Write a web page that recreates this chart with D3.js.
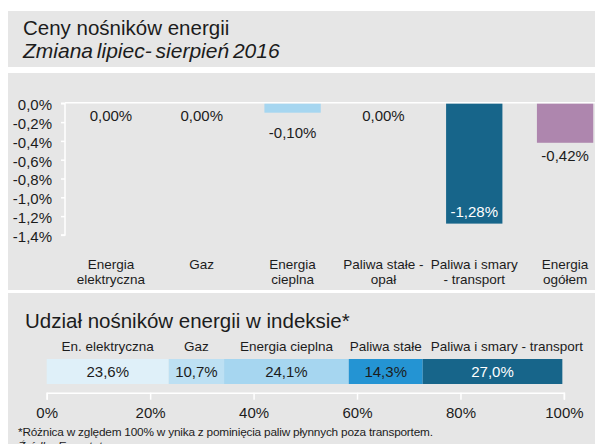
<!DOCTYPE html>
<html>
<head>
<meta charset="utf-8">
<script src="https://cdn.jsdelivr.net/npm/d3@7"></script>
<style>
  html, body { margin: 0; padding: 0; background: #ffffff; }
  svg { display: block; font-family: "Liberation Sans", Arial, sans-serif; }
</style>
</head>
<body>
<svg id="chart" width="595" height="444"></svg>
<script>
// ---- data ----
const categories = ["Energia\nelektryczna", "Gaz", "Energia\ncieplna", "Paliwa stałe -\nopał", "Paliwa i smary\n- transport", "Energia\nogółem"];
const changeValues = [0.00, 0.00, -0.10, 0.00, -1.28, -0.42];
const yTicks = [0, -0.2, -0.4, -0.6, -0.8, -1.0, -1.2, -1.4];

const shareLabels = ["En. elektryczna", "Gaz", "Energia cieplna", "Paliwa stałe", "Paliwa i smary - transport"];
const shareValues = [23.6, 10.7, 24.1, 14.3, 27.0];
const shareTicks = [0, 20, 40, 60, 80, 100];

const titleText = "Ceny nośników energii";
const subtitleText = "Zmiana lipiec- sierpień 2016";
const shareTitle = "Udział nośników energii w indeksie*";
const footnote = "*Różnica w zględem 100% w ynika z pominięcia paliw płynnych poza transportem.";
const sourceText = "Źródło: Eurostat";

// ---- style ----
const panelBg = "#e6e6e6";
const textColor = "#1c1c1c";
const barColors = ["#dff0f9", "#bde0f3", "#a6d6f0", "#2494d3", "#17658a", "#ae86ae"];
const shareColors = ["#dff0f9", "#bde0f3", "#a6d6f0", "#2494d3", "#17658a"];
const shareTextColors = [textColor, textColor, textColor, textColor, "#ffffff"];

const loc = d3.formatLocale({decimal: ",", thousands: " ", grouping: [3], currency: ["", ""], minus: "-"});
const fmt2 = loc.format(".2f");
const fmt1 = loc.format(".1f");
const fmt0 = loc.format(".0f");

const svg = d3.select("#chart");

// panels
svg.append("rect").attr("x", 8).attr("y", 11).attr("width", 587).attr("height", 56).attr("fill", panelBg);
svg.append("rect").attr("x", 8).attr("y", 73).attr("width", 587).attr("height", 217).attr("fill", panelBg);
svg.append("rect").attr("x", 8).attr("y", 293).attr("width", 587).attr("height", 151).attr("fill", panelBg);

// titles
svg.append("text").attr("x", 23).attr("y", 35).attr("font-size", "20.5px").attr("fill", textColor).text(titleText);
svg.append("text").attr("x", 23).attr("y", 58).attr("font-size", "21px").attr("font-style", "italic")
  .attr("word-spacing", "-2px").attr("fill", textColor).text(subtitleText);

// ---- top bar chart ----
const x = d3.scaleBand().domain(categories).range([65.5, 610.5]).paddingInner(0.38).paddingOuter(0.19);
const y = d3.scaleLinear().domain([-1.4, 0]).range([234.9, 103.3]);

const yAxis = d3.axisLeft(y).tickValues(yTicks).tickSize(4).tickPadding(9)
  .tickFormat(d => fmt1(d) + "%");
const gy = svg.append("g").attr("transform", "translate(65,0)").call(yAxis);
gy.select(".domain").attr("stroke", "#ffffff").attr("stroke-width", 1.5).attr("d", `M-4,${y(0)}H0V${y(-1.4)}H-4`);
gy.selectAll(".tick line").attr("stroke", "#ffffff").attr("stroke-width", 1.5);
gy.selectAll(".tick text").attr("font-size", "15px").attr("fill", textColor).attr("dy", "0.42em")
  .attr("font-family", "'Liberation Sans', Arial, sans-serif");

// bars
svg.append("g").selectAll("rect").data(categories).join("rect")
  .attr("x", d => x(d))
  .attr("width", x.bandwidth())
  .attr("y", (d, i) => y(Math.max(0, changeValues[i])))
  .attr("height", (d, i) => Math.abs(y(changeValues[i]) - y(0)))
  .attr("fill", (d, i) => barColors[i]);

// zero line
svg.append("line").attr("x1", 65).attr("x2", 595).attr("y1", y(0) - 0.5).attr("y2", y(0) - 0.5)
  .attr("stroke", "#ffffff").attr("stroke-width", 1.6);

// value labels
svg.append("g").selectAll("text").data(categories).join("text")
  .attr("x", d => x(d) + x.bandwidth() / 2)
  .attr("y", (d, i) => {
    const v = changeValues[i];
    const h = Math.abs(y(v) - y(0));
    if (h > 60) return y(v) - 7;            // inside the bar end
    if (h > 0 && h < 20) return y(v) + 25;  // small bar: pushed further
    return y(v) + 18;
  })
  .attr("text-anchor", "middle")
  .attr("font-size", "15px")
  .attr("fill", (d, i) => Math.abs(y(changeValues[i]) - y(0)) > 60 ? "#ffffff" : textColor)
  .text((d, i) => fmt2(changeValues[i]) + "%");

// category labels
const catG = svg.append("g").selectAll("text").data(categories).join("text")
  .attr("x", d => x(d) + x.bandwidth() / 2)
  .attr("y", 268.5)
  .attr("text-anchor", "middle")
  .attr("font-size", "13.5px")
  .attr("fill", textColor);
catG.each(function(d) {
  const t = d3.select(this);
  d.split("\n").forEach((line, k) => {
    t.append("tspan").attr("x", x(d) + x.bandwidth() / 2).attr("dy", k === 0 ? 0 : 15).text(line);
  });
});

// ---- bottom share bar ----
svg.append("text").attr("x", 25).attr("y", 328).attr("font-size", "20.5px").attr("fill", textColor).text(shareTitle);

const xs = d3.scaleLinear().domain([0, 100]).range([46.7, 563.9]);
const cum = d3.cumsum(shareValues);
const starts = shareValues.map((v, i) => cum[i] - v);

svg.append("g").selectAll("rect").data(shareValues).join("rect")
  .attr("x", (d, i) => xs(starts[i]))
  .attr("width", (d, i) => xs(cum[i]) - xs(starts[i]))
  .attr("y", 359).attr("height", 25)
  .attr("fill", (d, i) => shareColors[i]);

svg.append("g").selectAll("text").data(shareValues).join("text")
  .attr("x", (d, i) => xs(starts[i] + d / 2))
  .attr("y", 377)
  .attr("text-anchor", "middle")
  .attr("font-size", "15px")
  .attr("fill", (d, i) => shareTextColors[i])
  .text(d => fmt1(d) + "%");

// segment labels with simple collision resolution
const segLabels = svg.append("g").selectAll("text").data(shareLabels).join("text")
  .attr("y", 351)
  .attr("font-size", "13.5px")
  .attr("fill", textColor)
  .text(d => d);
let prevRight = -Infinity;
segLabels.each(function(d, i) {
  const w = this.getComputedTextLength();
  const c = xs(starts[i] + shareValues[i] / 2);
  let left = Math.max(c - w / 2, prevRight + 9);
  d3.select(this).attr("x", left);
  prevRight = left + w;
});

const xAxis = d3.axisBottom(xs).tickValues(shareTicks).tickSize(7).tickPadding(8)
  .tickFormat(d => fmt0(d) + "%");
const gx = svg.append("g").attr("transform", "translate(0,392.7)").call(xAxis);
gx.select(".domain").attr("stroke", "#ffffff").attr("stroke-width", 1.5);
gx.selectAll(".tick line").attr("stroke", "#ffffff").attr("stroke-width", 1.5);
gx.selectAll(".tick text").attr("font-size", "15px").attr("fill", textColor)
  .attr("font-family", "'Liberation Sans', Arial, sans-serif");

// footnotes
svg.append("text").attr("x", 18).attr("y", 436).attr("font-size", "11.8px").attr("letter-spacing", "-0.2px")
  .attr("fill", textColor).text(footnote);
svg.append("text").attr("x", 18).attr("y", 450).attr("font-size", "11.8px").attr("font-style", "italic")
  .attr("fill", textColor).text(sourceText);
</script>
</body>
</html>
